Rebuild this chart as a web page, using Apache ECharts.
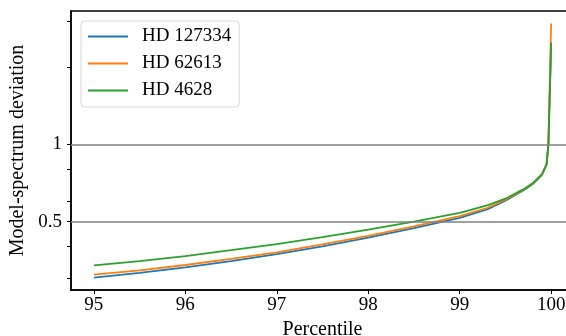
<!DOCTYPE html>
<html>
<head>
<meta charset="utf-8">
<script src="https://cdn.jsdelivr.net/npm/echarts@6/dist/echarts.min.js"></script>
<style>
  html, body { margin: 0; padding: 0; background: #fff; }
  #chart { width: 566px; height: 336px; }
</style>
</head>
<body>
<div id="chart"></div>
<script>
// percentile positions
const percentile = [95, 95.5, 96, 96.5, 97, 97.5, 98, 98.5, 99, 99.3, 99.5, 99.7, 99.8, 99.9, 99.95, 99.97, 100]
const hd127334 = [0.303, 0.316, 0.332, 0.351, 0.374, 0.401, 0.433, 0.472, 0.517, 0.558, 0.603, 0.662, 0.700, 0.760, 0.835, 0.98, 2.45]
const hd62613 = [0.311, 0.323, 0.339, 0.358, 0.380, 0.408, 0.440, 0.479, 0.525, 0.565, 0.609, 0.665, 0.704, 0.762, 0.840, 1.02, 2.95]
const hd4628 = [0.338, 0.351, 0.367, 0.387, 0.409, 0.435, 0.465, 0.500, 0.541, 0.578, 0.614, 0.669, 0.706, 0.765, 0.835, 1.0, 2.49]

const xTicks = [95, 96, 97, 98, 99, 100]
const yLabels = [0.5, 1]
const yTicks = [0.3, 0.4, 0.5, 0.6, 0.8, 1, 2, 3]
const refLines = [0.5, 1]

const font = "'Liberation Serif', 'DejaVu Serif', serif"
const pairs = (ys) => percentile.map((p, i) => [p, ys[i]])

function renderChart() {
	const chart = echarts.init(document.querySelector("#chart"))
	chart.setOption({
		animation: false,
		textStyle: { fontFamily: font, color: "#000" },
		grid: {
			left: 71, top: 11, right: -8, bottom: 46,
			outerBoundsMode: "none",
			containLabel: false,
			show: true, borderColor: "#000", borderWidth: 1.5
		},
		legend: {
			orient: "vertical",
			left: 81, top: 21,
			padding: [6, 8, 7, 7],
			icon: "rect",
			itemWidth: 40, itemHeight: 2, itemGap: 8,
			borderColor: "#d5d5d5", borderWidth: 1, borderRadius: 4,
			backgroundColor: "rgba(255,255,255,0.8)",
			textStyle: { fontFamily: font, fontSize: 19, lineHeight: 19, color: "#000", padding: [0, 0, 0, 9] }
		},
		xAxis: {
			type: "value",
			min: 94.75, max: 100.25,
			name: "Percentile",
			nameLocation: "middle",
			nameGap: 27,
			nameTextStyle: { fontFamily: font, fontSize: 20, color: "#000" },
			axisLine: { show: true, lineStyle: { color: "#000", width: 1.5 } },
			axisTick: { show: true, customValues: xTicks, length: 4, lineStyle: { color: "#000", width: 1 } },
			axisLabel: { customValues: xTicks, fontFamily: font, fontSize: 19, color: "#000", margin: 6 },
			splitLine: { show: false }
		},
		yAxis: {
			type: "log",
			logBase: 10,
			min: 0.271, max: 3.30,
			name: "Model-spectrum deviation",
			nameLocation: "middle",
			nameGap: 40,
			nameTextStyle: { fontFamily: font, fontSize: 20, color: "#000" },
			axisLine: { show: true, lineStyle: { color: "#000", width: 1.5 } },
			axisTick: { show: true, customValues: yTicks, length: 4, lineStyle: { color: "#000", width: 1 } },
			axisLabel: { customValues: yLabels, fontFamily: font, fontSize: 19, color: "#000", margin: 9 },
			splitLine: { show: false },
			minorTick: { show: false }
		},
		series: [
			{
				name: "HD 127334",
				type: "line",
				data: pairs(hd127334),
				symbol: "none",
				color: "#1f77b4",
				lineStyle: { width: 1.8 },
				markLine: {
					silent: true,
					symbol: "none",
					label: { show: false },
					lineStyle: { color: "#808080", width: 1.5, type: "solid" },
					data: refLines.map(v => ({ yAxis: v }))
				}
			},
			{
				name: "HD 62613",
				type: "line",
				data: pairs(hd62613),
				symbol: "none",
				color: "#ff7f0e",
				lineStyle: { width: 1.8 }
			},
			{
				name: "HD 4628",
				type: "line",
				data: pairs(hd4628),
				symbol: "none",
				color: "#2ca02c",
				lineStyle: { width: 1.8 }
			}
		]
	})
}

renderChart()
</script>
</body>
</html>
